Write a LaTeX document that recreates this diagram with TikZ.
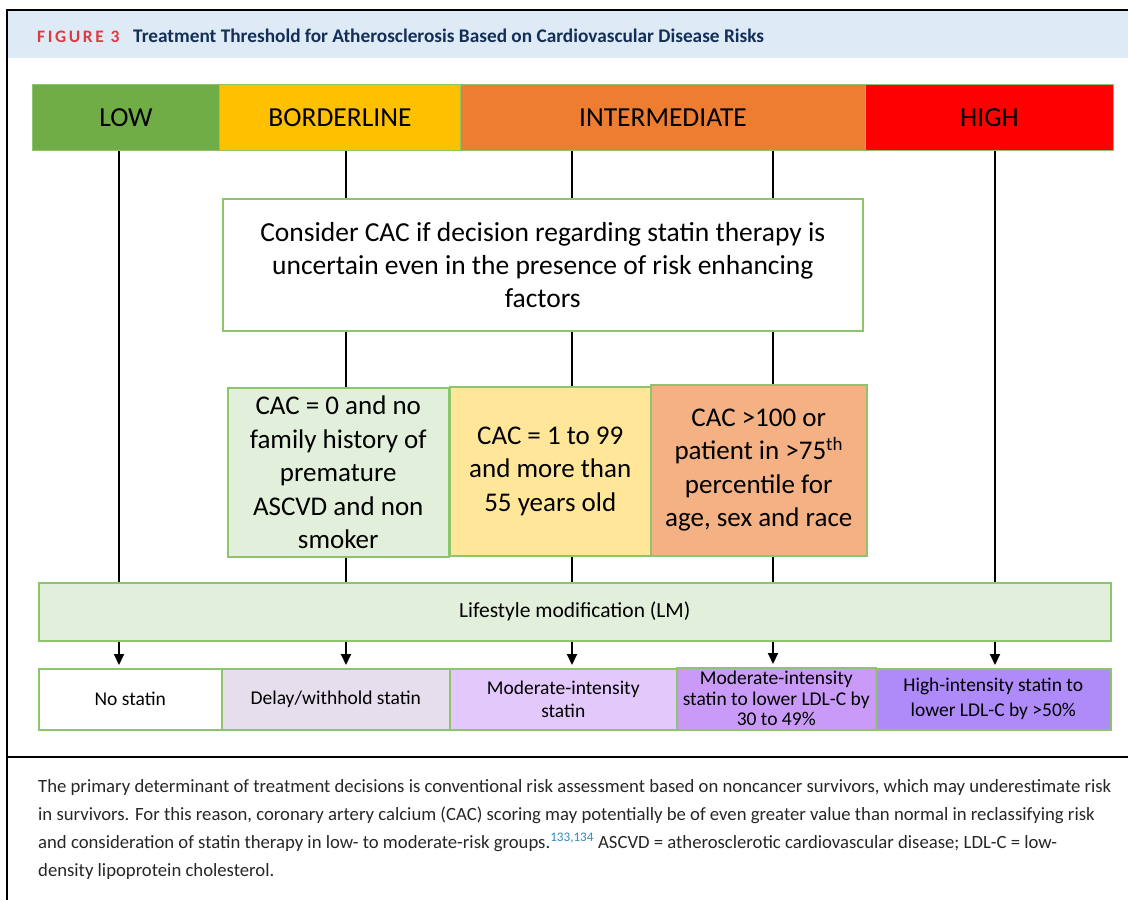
\documentclass[tikz,border=0pt]{standalone}
\usepackage{fontspec}
\setmainfont{Carlito}
\usetikzlibrary{arrows.meta}

\definecolor{lowgreen}{HTML}{70AD47}
\definecolor{bordyellow}{HTML}{FFC000}
\definecolor{midorange}{HTML}{ED7D31}
\definecolor{highred}{HTML}{FF0000}
\definecolor{boxline}{HTML}{8DC46C}
\definecolor{palegreen}{HTML}{E2EFDA}
\definecolor{paleyellow}{HTML}{FFE699}
\definecolor{paleorange}{HTML}{F4B183}
\definecolor{lavgrey}{HTML}{E6DEEC}
\definecolor{lilac}{HTML}{E3C8FB}
\definecolor{violetA}{HTML}{C99AF7}
\definecolor{violetB}{HTML}{AE8BF8}
\definecolor{headblue}{HTML}{DEEAF6}
\definecolor{titlenavy}{HTML}{142F57}
\definecolor{figred}{HTML}{E03A3E}
\definecolor{supblue}{HTML}{2E8BC0}

\tikzset{
  riskbar/.style={draw=boxline, line width=1pt, anchor=north west, inner sep=0pt,
    minimum height=66pt, font=\fontsize{27.5}{30}\selectfont},
  cacbox/.style={draw=boxline, line width=1.5pt, anchor=north west, inner sep=0pt,
    align=center, font=\fontsize{27}{33.5}\selectfont},
  outbox/.style={draw=boxline, line width=1.5pt, anchor=north west, inner sep=0pt,
    align=center, minimum height=61pt, font=\fontsize{19.5}{23}\selectfont},
  link/.style={line width=2pt},
  linkarrow/.style={line width=2pt, shorten >=3pt, -{Triangle[length=11pt,width=10pt]}}
}

\begin{document}
\begin{tikzpicture}[x=1pt,y=-1pt]
    \useasboundingbox (0,0) rectangle (1128,900);

    % frame and heading
    \fill[headblue] (8,11) rectangle (1128,58);
    \draw[line width=2pt] (1128,10) -- (7,10) -- (7,900);
    \draw[line width=1.5pt] (7,757) -- (1128,757);
    \node[anchor=base west, inner sep=0pt, text=figred,
      font=\fontsize{17.5}{20}\bfseries\addfontfeatures{LetterSpace=15}] (fig) at (37,42) {FIGURE 3};
    \node[anchor=base west, inner sep=0pt, text=titlenavy,
      font=\fontsize{19.3}{20}\bfseries] (title) at (133,42)
      {Treatment Threshold for Atherosclerosis Based on Cardiovascular Disease Risks};

    % risk bar
    \node[riskbar, fill=lowgreen, minimum width=187pt] (low) at (32,84) {LOW};
    \node[riskbar, fill=bordyellow, minimum width=241pt] (bord) at (219,84) {BORDERLINE};
    \node[riskbar, fill=midorange, minimum width=405pt] (inter) at (460,84) {INTERMEDIATE};
    \node[riskbar, fill=highred, minimum width=248pt] (high) at (865,84) {HIGH};

    % columns
    \coordinate (c1) at (119,0);
    \coordinate (c2) at (346,0);
    \coordinate (c3) at (572,0);
    \coordinate (c4) at (773,0);
    \coordinate (c5) at (995,0);

    % boxes
    \node[cacbox, fill=white, minimum width=640pt, minimum height=132pt,
      font=\fontsize{27.5}{33}\selectfont] (cons) at (222,198)
      {Consider CAC if decision regarding statin therapy is\\
       uncertain even in the presence of risk enhancing\\ factors};

    \node[cacbox, fill=palegreen, minimum width=221pt, minimum height=169pt] (zero) at (227,387)
      {CAC = 0 and no\\ family history of\\ premature\\ ASCVD and non\\ smoker};
    \node[cacbox, fill=paleyellow, minimum width=201pt, minimum height=169pt] (mid) at (449,386)
      {CAC = 1 to 99\\ and more than\\ 55 years old};
    \node[cacbox, fill=paleorange, minimum width=216pt, minimum height=171pt] (hundred) at (650,384)
      {CAC >100 or\\ patient in >75\textsuperscript{th}\\ percentile for\\ age, sex and race};

    \node[cacbox, fill=palegreen, minimum width=1072pt, minimum height=58pt,
      font=\fontsize{21.5}{24}\selectfont] (lm) at (38,582) {Lifestyle modification (LM)};

    % outcomes
    \node[outbox, fill=white, minimum width=183pt] (none) at (38,668) {No statin};
    \node[outbox, fill=lavgrey, minimum width=228pt] (delay) at (221,668) {Delay/withhold statin};
    \node[outbox, fill=lilac, minimum width=227pt] (moder) at (449,668) {Moderate-intensity\\ statin};
    \node[outbox, fill=violetA, minimum width=199pt, minimum height=62pt,
      font=\fontsize{19.5}{20.5}\selectfont] (lower) at (676,667)
      {Moderate-intensity\\ statin to lower LDL-C by\\ 30 to 49\%};
    \node[outbox, fill=violetB, minimum width=235pt, font=\fontsize{19.5}{25}\selectfont] (hi) at (875,668)
      {High-intensity statin to\\ lower LDL-C by >50\%};

    % links
    \draw[link] (low.south -| c1) -- (lm.north -| c1);
    \draw[link] (high.south -| c5) -- (lm.north -| c5);
    \draw[link] (bord.south -| c2) -- (cons.north -| c2);
    \draw[link] (inter.south -| c3) -- (cons.north -| c3);
    \draw[link] (inter.south -| c4) -- (cons.north -| c4);
    \draw[link] (cons.south -| c2) -- (zero.north -| c2);
    \draw[link] (cons.south -| c3) -- (mid.north -| c3);
    \draw[link] (cons.south -| c4) -- (hundred.north -| c4);
    \draw[link] (zero.south -| c2) -- (lm.north -| c2);
    \draw[link] (mid.south -| c3) -- (lm.north -| c3);
    \draw[link] (hundred.south -| c4) -- (lm.north -| c4);

    % arrows
    \draw[linkarrow] (lm.south -| c1) -- (none.north -| c1);
    \draw[linkarrow] (lm.south -| c2) -- (delay.north -| c2);
    \draw[linkarrow] (lm.south -| c3) -- (moder.north -| c3);
    \draw[linkarrow] (lm.south -| c4) -- (lower.north -| c4);
    \draw[linkarrow] (lm.south -| c5) -- (hi.north -| c5);

    % caption
    \node[anchor=north west, inner sep=0pt, align=left, text=black!85,
      font=\fontsize{18.7}{28}\selectfont] (cap) at (38,779)
      {The primary determinant of treatment decisions is conventional risk assessment based on noncancer survivors, which may underestimate risk\\
       in survivors. For this reason, coronary artery calcium (CAC) scoring may potentially be of even greater value than normal in reclassifying risk\\
       and consideration of statin therapy in low- to moderate-risk groups.\textsuperscript{\color{supblue}133,134} ASCVD = atherosclerotic cardiovascular disease; LDL-C = low-\\
       density lipoprotein cholesterol.};

\end{tikzpicture}
\end{document}
